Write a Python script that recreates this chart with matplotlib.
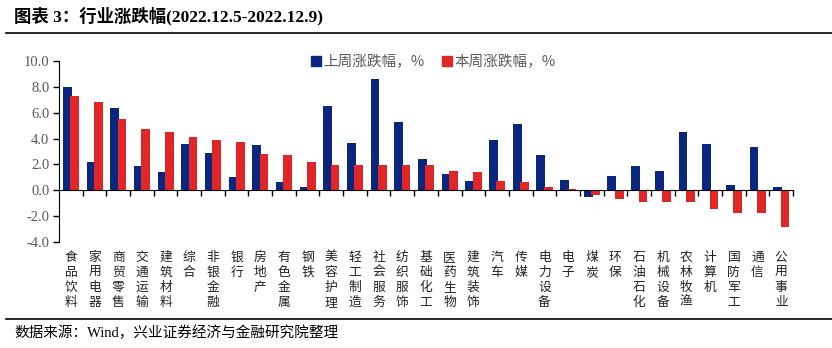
import matplotlib
matplotlib.use("Agg")
import matplotlib.pyplot as plt
from matplotlib.patches import Patch
import numpy as np

plt.rcParams['font.family'] = ['Noto Sans CJK SC', 'DejaVu Sans']

categories = ["食品饮料", "家用电器", "商贸零售", "交通运输", "建筑材料", "综合", "非银金融", "银行",
              "房地产", "有色金属", "钢铁", "美容护理", "轻工制造", "社会服务", "纺织服饰", "基础化工",
              "医药生物", "建筑装饰", "汽车", "传媒", "电力设备", "电子", "煤炭", "环保",
              "石油石化", "机械设备", "农林牧渔", "计算机", "国防军工", "通信", "公用事业"]
last_week = [7.99, 2.19, 6.37, 1.88, 1.42, 3.58, 2.89, 1.03,
             3.51, 0.64, 0.26, 6.52, 3.66, 8.61, 5.28, 2.42,
             1.26, 0.72, 3.89, 5.13, 2.73, 0.80, -0.49, 1.11,
             1.88, 1.49, 4.51, 3.58, 0.41, 3.35, 0.26]
this_week = [7.29, 6.83, 5.52, 4.74, 4.51, 4.12, 3.89, 3.74,
             2.81, 2.73, 2.19, 1.96, 1.96, 1.96, 1.96, 1.96,
             1.49, 1.42, 0.72, 0.64, 0.26, 0.10, -0.34, -0.64,
             -0.88, -0.88, -0.88, -1.42, -1.73, -1.73, -2.81]
series_names = ["上周涨跌幅，%", "本周涨跌幅，%"]
yticks = [-4, -2, 0, 2, 4, 6, 8, 10]

blue = '#0A2780'
red = '#E02626'
gray = '#595959'

W, H = 832, 348
fig = plt.figure(figsize=(W / 100, H / 100), dpi=100)
ax = fig.add_axes([59 / W, 1 - 242 / H, (793 - 59) / W, (242 - 61) / H])

x = np.arange(len(categories))
bw = 0.37
ax.bar(x - 0.15, last_week, width=bw, color=blue, zorder=2)
ax.bar(x + 0.16, this_week, width=bw, color=red, zorder=3)

ax.set_xlim(-0.5, len(categories) - 0.5)
ax.set_ylim(-4, 10)
ax.set_yticks(yticks)
ax.set_yticklabels([f"{v:.1f}" for v in yticks], family=['Liberation Serif'], fontsize=10.5, color=gray)
ax.tick_params(axis='y', direction='out', length=4, width=1, color='black', pad=3)

for s in ['top', 'right']:
    ax.spines[s].set_visible(False)
ax.spines['left'].set_color('black')
ax.spines['bottom'].set_position(('data', 0))
ax.spines['bottom'].set_color('black')
ax.spines['bottom'].set_zorder(5)
ax.set_xticks(np.arange(0.5, len(categories), 1.0))
ax.set_xticklabels([])
ax.tick_params(axis='x', direction='out', length=4, width=1, color='black')

for i, c in enumerate(categories):
    ax.text(i, -0.05, "\n".join(c), transform=ax.get_xaxis_transform(),
            ha='center', va='top', fontsize=9.2, linespacing=1.2, color='#222222')

handles = [Patch(color=blue), Patch(color=red)]
fig.legend(handles, series_names, loc='center left', bbox_to_anchor=(305 / W, 1 - 62 / H),
           ncol=2, frameon=False, fontsize=10.5, handlelength=0.7, handleheight=0.7,
           handletextpad=0.15, columnspacing=1.2, labelcolor=gray, borderaxespad=0)

fig.text(14 / W, 1 - 16 / H, "图表 3：行业涨跌幅(2022.12.5-2022.12.9)",
         family=['Liberation Serif', 'Noto Sans CJK SC'], fontweight='bold', fontsize=12.5,
         ha='left', va='center', color='black')
fig.add_artist(plt.Line2D([6 / W, 1], [1 - 33 / H, 1 - 33 / H], color='black', lw=1.2))
fig.add_artist(plt.Line2D([6 / W, 1], [1 - 319 / H, 1 - 319 / H], color='black', lw=1.2))
fig.text(14 / W, 1 - 333 / H, "数据来源：Wind，兴业证券经济与金融研究院整理",
         family=['Liberation Serif', 'Noto Sans CJK SC'], fontsize=10.5,
         ha='left', va='center', color='black')

fig.savefig("out.png", dpi=100)
